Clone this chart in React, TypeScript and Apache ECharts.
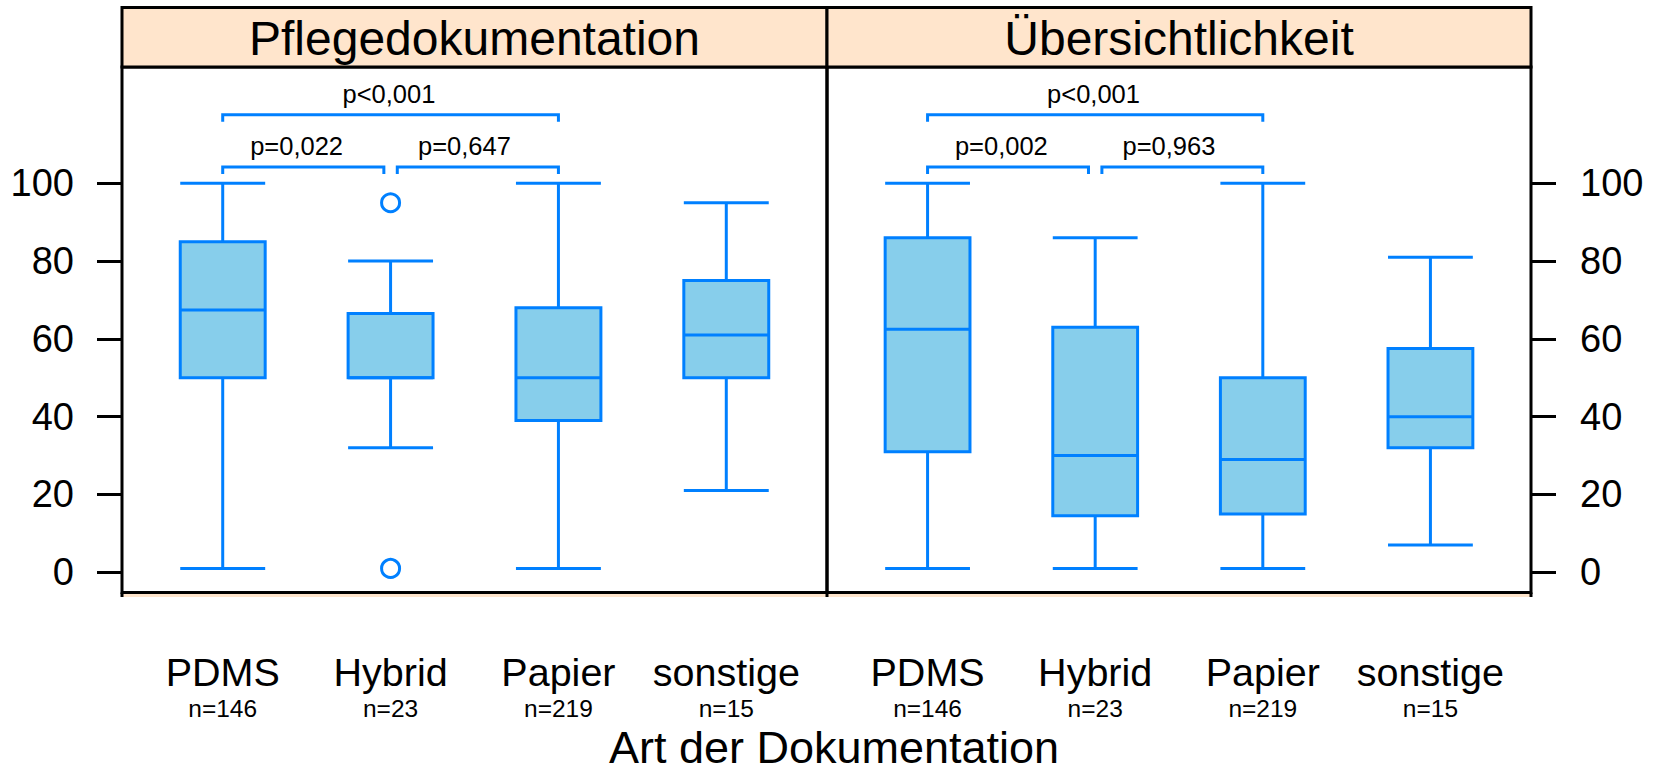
import React, { useEffect, useRef } from "react";
import * as echarts from "echarts";

// ---------- data ----------
const categories = ["PDMS", "Hybrid", "Papier", "sonstige"];
const counts = [146, 23, 219, 15];
const panelTitles = ["Pflegedokumentation", "Übersichtlichkeit"];
const axisTitle = "Art der Dokumentation";
const yTicks = [0, 20, 40, 60, 80, 100];

// five-number summaries per category: [lower whisker, Q1, median, Q3, upper whisker]
const pflegeStats = [
  [1, 50, 67.4, 85, 100],
  [32, 50, 50, 66.5, 80],
  [1, 39, 50, 68, 100],
  [21, 50, 61, 75, 95],
];
const uebersichtStats = [
  [1, 31, 62.5, 86, 100],
  [1, 14.5, 30, 63, 86],
  [1, 15, 29, 50, 100],
  [7, 32, 40, 57.5, 81],
];
// outliers: [category index (1-based), value]
const pflegeOutliers = [
  [2, 95],
  [2, 1],
];
const uebersichtOutliers: number[][] = [];

// pairwise tests: [from category, to category, label]
const pflegeTests: [number, number, string][] = [
  [1, 2, "p=0,022"],
  [2, 3, "p=0,647"],
  [1, 3, "p<0,001"],
];
const uebersichtTests: [number, number, string][] = [
  [1, 2, "p=0,002"],
  [2, 3, "p=0,963"],
  [1, 3, "p<0,001"],
];

// ---------- layout / style ----------
const FONT = "'Liberation Sans', Arial, sans-serif";
const BLUE = "#0080ff";
const FILL = "#87ceeb";
const PEACH = "#ffe5cc";
const LEFT = 122;
const MID = 827;
const RIGHT = 1531;
const STRIP_TOP = 7.5;
const GRID_TOP = 67;
const GRID_BOTTOM = 592.5;
const Y_MIN = -5.2;
const Y_MAX = 129.9;
const X_MIN = 0.4;
const X_MAX = 4.6;
const BRACKET_LOW = 104.2;
const BRACKET_HIGH = 117.6;
const BRACKET_DROP = 1.8;
const LABEL_RAISE = 5.4;

function bracketData(tests: [number, number, string][]) {
  return tests.map(([a, b]) => {
    const adjacent = b - a === 1;
    const x1 = adjacent && tests.some(([c, d]) => d - c === 1 && d === a) ? a + 0.04 : a;
    const x2 = adjacent && tests.some(([c, d]) => d - c === 1 && c === b) ? b - 0.04 : b;
    const y = adjacent ? BRACKET_LOW : BRACKET_HIGH;
    const lx = adjacent ? a + 0.44 : (a + b) / 2 - 0.01;
    return [x1, x2, y, lx];
  });
}

function boxSeries(stats: number[][], xi: number, yi: number) {
  return {
    type: "custom",
    xAxisIndex: xi,
    yAxisIndex: yi,
    data: stats.map((s, i) => [i + 1, ...s]),
    renderItem: (_params: any, api: any) => {
      const x = api.value(0);
      const lo = api.coord([x, api.value(1)]);
      const q1 = api.coord([x, api.value(2)]);
      const med = api.coord([x, api.value(3)]);
      const q3 = api.coord([x, api.value(4)]);
      const hi = api.coord([x, api.value(5)]);
      const hw = api.size([1, 0])[0] * 0.253;
      const cx = lo[0];
      const ls = { stroke: BLUE, lineWidth: 3, fill: "none" };
      return {
        type: "group",
        children: [
          { type: "line", shape: { x1: cx, y1: hi[1], x2: cx, y2: q3[1] }, style: ls },
          { type: "line", shape: { x1: cx, y1: q1[1], x2: cx, y2: lo[1] }, style: ls },
          { type: "line", shape: { x1: cx - hw, y1: hi[1], x2: cx + hw, y2: hi[1] }, style: ls },
          { type: "line", shape: { x1: cx - hw, y1: lo[1], x2: cx + hw, y2: lo[1] }, style: ls },
          {
            type: "rect",
            shape: { x: cx - hw, y: q3[1], width: 2 * hw, height: q1[1] - q3[1] },
            style: { fill: FILL, stroke: BLUE, lineWidth: 3 },
          },
          { type: "line", shape: { x1: cx - hw, y1: med[1], x2: cx + hw, y2: med[1] }, style: ls },
        ],
      };
    },
    z: 3,
  };
}

function bracketSeries(tests: [number, number, string][], xi: number, yi: number) {
  return {
    type: "custom",
    xAxisIndex: xi,
    yAxisIndex: yi,
    data: bracketData(tests),
    renderItem: (params: any, api: any) => {
      const x1 = api.value(0);
      const x2 = api.value(1);
      const y = api.value(2);
      const lx = api.value(3);
      const a = api.coord([x1, y - BRACKET_DROP]);
      const b = api.coord([x1, y]);
      const c = api.coord([x2, y]);
      const d = api.coord([x2, y - BRACKET_DROP]);
      const t = api.coord([lx, y + LABEL_RAISE]);
      return {
        type: "group",
        children: [
          {
            type: "polyline",
            shape: { points: [a, b, c, d] },
            style: { stroke: BLUE, lineWidth: 3, fill: "none" },
          },
          {
            type: "text",
            x: t[0],
            y: t[1],
            style: {
              text: tests[params.dataIndex][2],
              fontSize: 25.5,
              fontFamily: FONT,
              fill: "#000",
              align: "center",
              verticalAlign: "middle",
              textAlign: "center",
              textVerticalAlign: "middle",
            },
          },
        ],
      };
    },
    z: 4,
  };
}

function outlierSeries(points: number[][], xi: number, yi: number) {
  return {
    type: "scatter",
    xAxisIndex: xi,
    yAxisIndex: yi,
    data: points,
    symbol: "circle",
    symbolSize: 18,
    itemStyle: { color: "#fff", borderColor: BLUE, borderWidth: 3, opacity: 1 },
    z: 5,
  };
}

function xAxes(gridIndex: number) {
  const common = {
    type: "value",
    gridIndex,
    min: X_MIN,
    max: X_MAX,
    position: "bottom",
    axisLine: { show: false },
    axisTick: { show: false },
    splitLine: { show: false },
  };
  return [
    {
      ...common,
      axisLabel: {
        customValues: [1, 2, 3, 4],
        formatter: (v: number) => categories[Math.round(v) - 1] ?? "",
        fontSize: 39.5,
        lineHeight: 39.5,
        fontFamily: FONT,
        color: "#000",
        margin: 59.6,
      },
    },
    {
      ...common,
      axisLabel: {
        customValues: [1, 2, 3, 4],
        formatter: (v: number) => {
          const n = counts[Math.round(v) - 1];
          return n === undefined ? "" : "n=" + n;
        },
        fontSize: 24.5,
        lineHeight: 24.5,
        fontFamily: FONT,
        color: "#000",
        margin: 103.3,
      },
    },
  ];
}

function yAxis(gridIndex: number, position: string, margin: number) {
  return {
    type: "value",
    gridIndex,
    position,
    min: Y_MIN,
    max: Y_MAX,
    axisLine: { show: false },
    splitLine: { show: false },
    axisTick: {
      show: true,
      customValues: yTicks,
      length: 25,
      inside: false,
      lineStyle: { color: "#000", width: 3 },
    },
    axisLabel: {
      show: true,
      customValues: yTicks,
      fontSize: 38,
      fontFamily: FONT,
      color: "#000",
      margin,
    },
  };
}

export default function App() {
  const ref = useRef<HTMLDivElement>(null);
  useEffect(() => {
    if (!ref.current) return;
    const chart = echarts.init(ref.current, null, { renderer: "svg" });
    const gridH = GRID_BOTTOM - GRID_TOP;
    const option: any = {
      animation: false,
      backgroundColor: "#fff",
      grid: [
        {
          left: LEFT,
          top: GRID_TOP,
          width: MID - LEFT,
          height: gridH,
          show: true,
          borderColor: "#000",
          borderWidth: 3,
          backgroundColor: "transparent",
        },
        {
          left: MID,
          top: GRID_TOP,
          width: RIGHT - MID,
          height: gridH,
          show: true,
          borderColor: "#000",
          borderWidth: 3,
          backgroundColor: "transparent",
        },
      ],
      xAxis: [...xAxes(0), ...xAxes(1)],
      yAxis: [yAxis(0, "left", 48), yAxis(1, "right", 49)],
      series: [
        boxSeries(pflegeStats, 0, 0),
        boxSeries(uebersichtStats, 2, 1),
        outlierSeries(pflegeOutliers, 0, 0),
        outlierSeries(uebersichtOutliers, 2, 1),
        bracketSeries(pflegeTests, 0, 0),
        bracketSeries(uebersichtTests, 2, 1),
      ],
      graphic: [
        {
          type: "rect",
          shape: { x: LEFT, y: STRIP_TOP, width: MID - LEFT, height: GRID_TOP - STRIP_TOP },
          style: { fill: PEACH, stroke: "#000", lineWidth: 3 },
        },
        {
          type: "rect",
          shape: { x: MID, y: STRIP_TOP, width: RIGHT - MID, height: GRID_TOP - STRIP_TOP },
          style: { fill: PEACH, stroke: "#000", lineWidth: 3 },
        },
        {
          type: "text",
          x: (LEFT + MID) / 2,
          y: (STRIP_TOP + GRID_TOP) / 2 + 1,
          style: {
            text: panelTitles[0],
            fontSize: 48,
            lineHeight: 44,
            fontFamily: FONT,
            fill: "#000",
            align: "center",
            verticalAlign: "middle",
          },
        },
        {
          type: "text",
          x: (MID + RIGHT) / 2,
          y: (STRIP_TOP + GRID_TOP) / 2 + 1,
          style: {
            text: panelTitles[1],
            fontSize: 48,
            lineHeight: 44,
            fontFamily: FONT,
            fill: "#000",
            align: "center",
            verticalAlign: "middle",
          },
        },
        {
          type: "rect",
          shape: { x: LEFT, y: GRID_BOTTOM + 1.5, width: RIGHT - LEFT, height: 3 },
          style: { fill: PEACH },
        },
        {
          type: "line",
          shape: { x1: LEFT, y1: GRID_BOTTOM, x2: LEFT, y2: GRID_BOTTOM + 4.5 },
          style: { stroke: "#000", lineWidth: 3 },
        },
        {
          type: "line",
          shape: { x1: MID, y1: GRID_BOTTOM, x2: MID, y2: GRID_BOTTOM + 4.5 },
          style: { stroke: "#000", lineWidth: 3 },
        },
        {
          type: "line",
          shape: { x1: RIGHT, y1: GRID_BOTTOM, x2: RIGHT, y2: GRID_BOTTOM + 4.5 },
          style: { stroke: "#000", lineWidth: 3 },
        },
        {
          type: "text",
          x: 834,
          y: 747.4,
          style: {
            text: axisTitle,
            fontSize: 45,
            lineHeight: 40,
            fontFamily: FONT,
            fill: "#000",
            align: "center",
            verticalAlign: "middle",
          },
        },
      ],
    };
    chart.setOption(option);
    return () => chart.dispose();
  }, []);
  return (
    <div
      ref={ref}
      style={{ position: "fixed", left: 0, top: 0, width: 1656, height: 773, background: "#fff" }}
    />
  );
}
